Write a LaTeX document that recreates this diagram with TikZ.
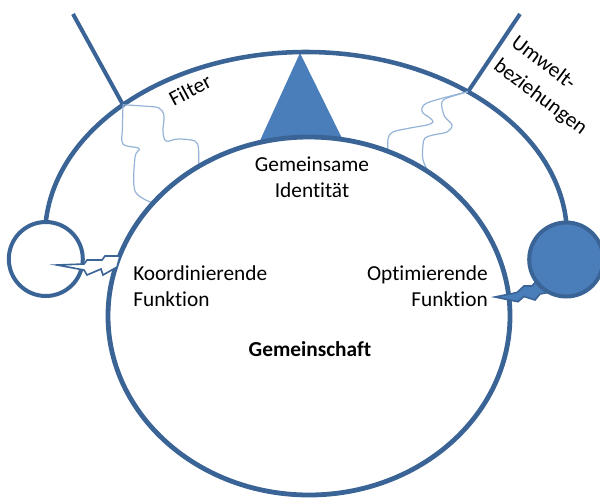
\documentclass[tikz,border=0pt]{standalone}
\usepackage{fontspec}
\setmainfont{Carlito}[Ligatures={NoCommon,NoRare,NoContextual}]
\usetikzlibrary{shapes.geometric}
\definecolor{lineblue}{RGB}{59,100,150}
\definecolor{fillblue}{RGB}{74,126,187}
\definecolor{waveblue}{RGB}{149,179,215}
\begin{document}
\begin{tikzpicture}[x=0.75pt,y=-0.75pt,
  thickline/.style={draw=lineblue, line width=3.4pt},
  wavy/.style={draw=waveblue, line width=0.9pt},
  txt/.style={font=\fontsize{16}{19.5}\selectfont, text=black, inner sep=0pt},
  boltline/.style={draw=lineblue, line width=1.2pt, line join=miter},
]
\useasboundingbox (0,0) rectangle (600,497);
\clip (0,0) rectangle (600,497);

% triangle (identity)
\coordinate (apex) at (300,53);
\fill[fillblue] (apex) -- (255.7,150) -- (347.8,150) -- cycle;

% outer band arc
\coordinate (oL) at (45.8,222);
\coordinate (jl) at (123,104.8);
\coordinate (jr) at (468,91.7);
\coordinate (tl) at (73,14);
\coordinate (tr) at (520,14);
\draw[thickline] (oL) arc[start angle=184.36, end angle=355.64, x radius=261, y radius=184];
\draw[draw=lineblue, line width=3pt] (tl) -- (jl);
\draw[draw=lineblue, line width=3pt] (tr) -- (jr);

% filter waves
\draw[wavy] plot[smooth, tension=0.55] coordinates {(jl) (143,106) (159,108) (164,116) (163,131) (166,141) (178,139) (195,141) (198.5,149) (198.5,168)};
\draw[wavy] plot[smooth, tension=0.55] coordinates {(jl) (122.5,127) (123,144) (139,148.5) (135,157) (135,191) (153,203)};
\draw[wavy] plot[smooth, tension=0.55] coordinates {(jr) (443,98) (427,103) (422,108) (423,113) (430,118) (433,122) (427,125) (410,128) (393,132) (388,139) (388,153)};
\draw[wavy] plot[smooth, tension=0.55] coordinates {(jr) (447,98) (442,102) (442,108) (445,117) (452,125) (447,132) (433,135) (425,138) (423,145) (423,160) (430,175)};

% community
\node[ellipse, draw=lineblue, line width=3.6pt, fill=white, minimum width=301.5pt, minimum height=268.5pt, inner sep=0pt] (G) at (309,316) {};

% left circle and bolt
\node[circle, draw=lineblue, line width=3pt, fill=white, minimum size=55.5pt, inner sep=0pt] (cl) at (45.8,259) {};
\draw[boltline, fill=white] (57,265) -- (84,264) -- (87,260) -- (102,260) -- (105,256) -- (120,256) -- (117,267) -- (103,275) -- (101,269) -- (87,275) -- (84,270) -- cycle;

% right bolt and circle
\draw[boltline, fill=fillblue] (495,297) -- (517,292.5) -- (524,286) -- (532,286) -- (536,281.5) -- (552,276) -- (556,291) -- (540,294) -- (535,300) -- (524,296.5) -- (518,301.7) -- cycle;
\node[circle, draw=lineblue, line width=3pt, fill=fillblue, minimum size=55.5pt, inner sep=0pt] (cr) at (566.2,259.5) {};

% texts
\node[txt, rotate=28] (filter) at (190,90) {Filter};
\node[txt, font=\fontsize{16}{22}\selectfont, rotate=-37, align=left] (umwelt) at (549,86) {Umwelt-\\beziehungen};
\node[txt, align=center] (ident) at (312,177.5) {Gemeinsame\\Identität};
\node[txt, align=left, anchor=west] (koord) at (133,286.5) {Koordinierende\\Funktion};
\node[txt, align=right, anchor=east] (optim) at (488,286.5) {Optimierende\\Funktion};
\node[txt, font=\fontsize{16}{19.5}\selectfont\bfseries, anchor=base] (gem) at (310,356) {Gemeinschaft};
\end{tikzpicture}
\end{document}
